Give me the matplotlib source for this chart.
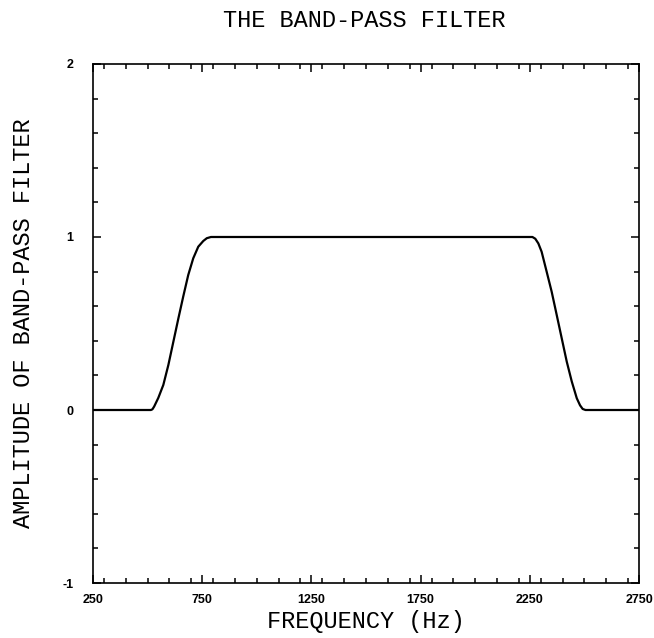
import matplotlib
matplotlib.use("Agg")
import matplotlib.pyplot as plt
from matplotlib.ticker import MultipleLocator

# filter response read as (frequency, amplitude) pairs
freq = [250, 515, 522, 530, 549, 572, 595, 618, 641, 663, 686, 709, 732, 755, 771, 790,
        2262, 2275, 2289, 2304, 2327, 2350, 2373, 2396, 2419, 2442, 2465, 2480, 2492, 2505, 2750]
amp = [0, 0, 0.004, 0.02, 0.07, 0.145, 0.26, 0.395, 0.53, 0.655, 0.78, 0.877, 0.944, 0.977, 0.993, 1,
       1, 0.99, 0.963, 0.915, 0.8, 0.684, 0.55, 0.415, 0.28, 0.165, 0.068, 0.027, 0.006, 0, 0]

xticks = [250, 750, 1250, 1750, 2250, 2750]
yticks = [-1, 0, 1, 2]

title_font = dict(family="Liberation Mono", size=17)

fig = plt.figure(figsize=(6.54, 6.38), dpi=100)
ax = fig.add_axes([0.1422, 0.0862, 0.8349, 0.8135])

ax.plot(freq, amp, color="black", lw=1.6)

ax.set_xlim(250, 2750)
ax.set_ylim(-1, 2)
ax.set_xticks(xticks)
ax.set_yticks(yticks)
ax.set_xticklabels([str(t) for t in xticks])
ax.set_yticklabels([str(t) for t in yticks])
ax.xaxis.set_minor_locator(MultipleLocator(100))
ax.yaxis.set_minor_locator(MultipleLocator(0.2))

ax.tick_params(which="both", direction="in", top=True, right=True, width=1.1)
ax.tick_params(which="major", length=6)
ax.tick_params(which="minor", length=3.5)
ax.tick_params(axis="x", pad=8)
ax.tick_params(axis="y", pad=14)
for lab in ax.get_xticklabels() + ax.get_yticklabels():
    lab.set_fontfamily("Liberation Sans")
    lab.set_fontweight("bold")
    lab.set_fontsize(9)

for sp in ax.spines.values():
    sp.set_linewidth(1.2)

ax.set_xlabel("FREQUENCY (Hz)", fontdict=title_font, labelpad=3)
ax.set_ylabel("AMPLITUDE OF BAND-PASS FILTER", fontdict=title_font, labelpad=20)
fig.text(0.557, 0.968, "THE BAND-PASS FILTER", ha="center", va="center", **title_font)

fig.savefig("out.png", dpi=100)
